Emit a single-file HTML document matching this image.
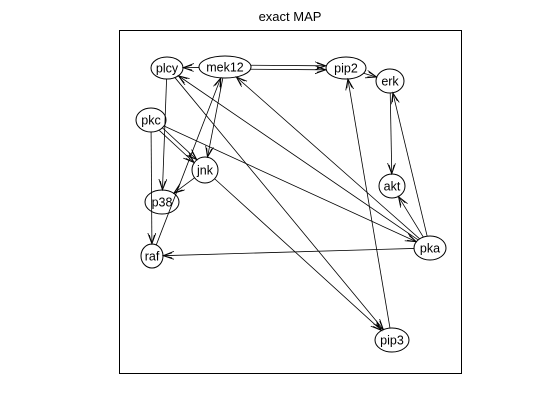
<!DOCTYPE html>
<html><head><meta charset="utf-8"><style>
html,body{margin:0;padding:0;background:#fff;}
svg{display:block;font-family:"Liberation Sans",Arial,sans-serif;}
</style></head><body>
<svg id="s" width="560" height="420" viewBox="0 0 560 420" xmlns="http://www.w3.org/2000/svg">
<defs>
<marker id="a" markerWidth="12" markerHeight="10" refX="11" refY="4" orient="auto" markerUnits="userSpaceOnUse">
<path d="M0,0 L11,4 L0,8 M2,1.5 L11,4 L2,6.5" fill="none" stroke="#000" stroke-width="0.8"/>
</marker>
</defs>
<rect x="119.5" y="30.5" width="342" height="343" fill="none" stroke="#000"/>
<text x="290" y="21" font-size="13" text-anchor="middle">exact MAP</text>
<g id="nodes"></g>
<g id="edges" stroke="#000" stroke-width="0.8" fill="none"></g>
</svg>
<script>
var N={plcy:[167,68,16,11],mek12:[225,67,26,11],pip2:[346,68,20,11],erk:[390,81,14,12],
pkc:[151,120,15,12],jnk:[205,170,13,13],akt:[392,186,13,12],p38:[162,202,17,12],
raf:[152,256,11,12],pka:[430,248,16,12],pip3:[392,340,17,12]};
var E=[["mek12","plcy"],["mek12","pip2",-2],["mek12","pip2",2],["pip2","erk"],["erk","akt"],
["pka","erk"],["pka","akt"],["pka","raf"],["pka","mek12"],["pka","plcy"],["pkc","pka"],
["plcy","pip3"],["jnk","pip3"],["pip3","pip2"],["plcy","p38"],["pkc","raf"],
["pkc","jnk",-2],["pkc","jnk",2],["mek12","jnk"],["raf","mek12"],["jnk","p38"]];
function bd(n,dx,dy){var e=N[n];var t=1/Math.sqrt(dx*dx/(e[2]*e[2])+dy*dy/(e[3]*e[3]));return [e[0]+dx*t,e[1]+dy*t];}
var ns="http://www.w3.org/2000/svg",g=document.getElementById("edges"),gn=document.getElementById("nodes");
E.forEach(function(r){var a=N[r[0]],b=N[r[1]],o=r[2]||0;var dx=b[0]-a[0],dy=b[1]-a[1];var L=Math.hypot(dx,dy);
var px=-dy/L*o,py=dx/L*o;var p=bd(r[0],dx,dy),q=bd(r[1],-dx,-dy);
var l=document.createElementNS(ns,"line");l.setAttribute("x1",p[0]+px);l.setAttribute("y1",p[1]+py);
l.setAttribute("x2",q[0]+px);l.setAttribute("y2",q[1]+py);l.setAttribute("marker-end","url(#a)");g.appendChild(l);});
for(var k in N){var e=N[k];var el=document.createElementNS(ns,"ellipse");el.setAttribute("cx",e[0]);el.setAttribute("cy",e[1]);
el.setAttribute("rx",e[2]);el.setAttribute("ry",e[3]);el.setAttribute("fill","none");el.setAttribute("stroke","#000");gn.appendChild(el);
var t=document.createElementNS(ns,"text");t.setAttribute("x",e[0]);t.setAttribute("y",e[1]+4.5);t.setAttribute("font-size","12.5");
t.setAttribute("text-anchor","middle");t.textContent=k;gn.appendChild(t);}
</script>
</body></html>
